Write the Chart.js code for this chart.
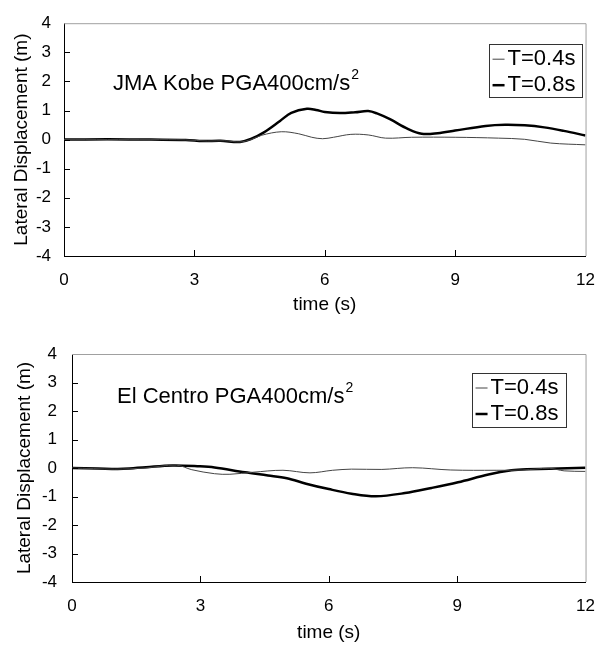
<!DOCTYPE html>
<html><head><meta charset="utf-8">
<script src="https://cdn.jsdelivr.net/npm/chart.js@4"></script>
<style>
html,body{margin:0;padding:0;background:#fff;width:609px;height:648px;overflow:hidden}
canvas{position:absolute;left:0}
</style></head><body>
<canvas id="c1" width="609" height="322" style="top:0"></canvas>
<canvas id="c2" width="609" height="326" style="top:322px"></canvas>
<script>
// ---- data ----
const xTickValues = [0, 3, 6, 9, 12];
const yTickValues = [-4, -3, -2, -1, 0, 1, 2, 3, 4];
const seriesLabels = ['T=0.4s', 'T=0.8s'];
const chartTitles = ['JMA Kobe PGA400cm/s', 'El Centro PGA400cm/s'];

const kobeT04Time = [0, 1, 2, 2.8, 3.3, 3.7, 4.05, 4.3, 4.55, 5.0, 5.4, 5.7, 5.95, 6.2, 6.6, 7.0, 7.4, 8.0, 9.0, 10.0, 10.6, 11.2, 12];
const kobeT04Disp = [0, 0, 0, -0.01, -0.05, -0.04, -0.08, 0.0, 0.15, 0.27, 0.2, 0.08, 0.03, 0.08, 0.18, 0.16, 0.05, 0.08, 0.08, 0.05, 0.01, -0.12, -0.18];

const kobeT08Time = [0, 1, 2, 2.8, 3.2, 3.6, 4.05, 4.3, 4.6, 4.97, 5.23, 5.59, 5.8, 6.0, 6.35, 6.7, 7.0, 7.2, 7.5, 7.91, 8.23, 8.6, 9.0, 9.7, 10.15, 10.6, 11.05, 11.5, 12];
const kobeT08Disp = [0, 0.01, 0, -0.01, -0.05, -0.04, -0.08, 0.02, 0.25, 0.64, 0.92, 1.06, 1.02, 0.95, 0.91, 0.94, 0.98, 0.9, 0.7, 0.37, 0.2, 0.22, 0.31, 0.47, 0.51, 0.49, 0.42, 0.3, 0.14];

const centroT04Time = [0, 0.5, 1.0, 1.7, 2.44, 2.8, 3.33, 3.69, 4.22, 4.93, 5.56, 6.09, 6.53, 7.24, 7.96, 8.85, 9.91, 10.53, 11.15, 11.5, 12];
const centroT04Disp = [0, -0.02, -0.04, 0.0, 0.1, -0.06, -0.2, -0.22, -0.15, -0.08, -0.17, -0.08, -0.04, -0.05, 0.01, -0.07, -0.08, -0.07, -0.01, -0.1, -0.12];

const centroT08Time = [0, 0.6, 1.2, 1.73, 2.35, 2.98, 3.33, 4.04, 4.58, 5.02, 5.47, 6.0, 6.53, 7.1, 7.78, 8.4, 9.02, 9.73, 10.27, 10.62, 11.15, 12];
const centroT08Disp = [0, -0.02, -0.03, 0.03, 0.09, 0.06, 0.02, -0.15, -0.26, -0.36, -0.55, -0.74, -0.9, -0.99, -0.88, -0.7, -0.5, -0.23, -0.08, -0.04, -0.03, 0.01];

// ---- helpers ----
const FONT = "'Liberation Sans', Arial, sans-serif";
const pts = (t, v) => t.map((x, i) => ({x, y: v[i]}));

const decorPlugin = {
  id: 'decor',
  afterDraw(chart, args, o) {
    const {ctx, chartArea: a, scales: {x, y}} = chart;
    ctx.save();
    // gray top/right frame
    ctx.strokeStyle = '#a0a0a0'; ctx.lineWidth = 1;
    ctx.beginPath();
    ctx.moveTo(a.left, a.top + 0.5); ctx.lineTo(a.right + 0.5, a.top + 0.5); ctx.lineTo(a.right + 0.5, a.bottom);
    ctx.stroke();
    // inner tick marks
    ctx.strokeStyle = '#000';
    ctx.beginPath();
    xTickValues.forEach(v => {
      if (v === x.min || v === x.max) return;
      const px = Math.round(x.getPixelForValue(v)) + 0.5;
      ctx.moveTo(px, a.bottom); ctx.lineTo(px, a.bottom - 6);
    });
    yTickValues.forEach(v => {
      if (v === y.min || v === y.max) return;
      const py = Math.round(y.getPixelForValue(v)) + 0.5;
      ctx.moveTo(a.left, py); ctx.lineTo(a.left + 6, py);
    });
    ctx.stroke();
    // title annotation with superscript
    ctx.fillStyle = '#000';
    ctx.textBaseline = 'middle'; ctx.textAlign = 'left';
    ctx.font = '22px ' + FONT;
    const tx = a.left + o.titleDx, ty = a.top + o.titleDy;
    ctx.fillText(o.title, tx, ty);
    const w = ctx.measureText(o.title).width;
    ctx.font = '14px ' + FONT;
    ctx.fillText('2', tx + w + 1, ty - 9);
    // legend box
    const bx = a.right - o.legDx, by = a.top + o.legDy, bw = o.legW, bh = o.legH;
    ctx.strokeStyle = '#333'; ctx.lineWidth = 1;
    ctx.strokeRect(Math.round(bx) + 0.5, Math.round(by) + 0.5, bw, bh);
    ctx.font = '22px ' + FONT;
    chart.data.datasets.forEach((ds, i) => {
      const ry = by + 15 + i * 26;
      ctx.strokeStyle = ds.borderColor; ctx.lineWidth = ds.borderWidth;
      ctx.beginPath(); ctx.moveTo(bx + 4, ry); ctx.lineTo(bx + 16, ry); ctx.stroke();
      ctx.fillStyle = '#000';
      ctx.fillText(ds.label, bx + 19, ry);
    });
    ctx.restore();
  }
};

function makeChart(id, t04, v04, t08, v08, L) {
  return new Chart(document.getElementById(id), {
    type: 'line',
    data: {
      datasets: [
        {label: seriesLabels[0], data: pts(t04, v04), borderColor: '#444', borderWidth: 1, pointRadius: 0, tension: 0.35, fill: false},
        {label: seriesLabels[1], data: pts(t08, v08), borderColor: '#000', borderWidth: 2.5, pointRadius: 0, tension: 0.35, fill: false}
      ]
    },
    options: {
      responsive: false, animation: false,
      layout: {padding: {left: 0, right: L.right, top: L.top, bottom: 0}},
      plugins: {legend: {display: false}, tooltip: {enabled: false},
        decor: {title: L.title, titleDx: L.titleDx, titleDy: L.titleDy, legDx: L.legDx, legDy: L.legDy, legW: L.legW, legH: L.legH}},
      scales: {
        x: {
          type: 'linear', min: 0, max: 12,
          afterFit: s => { s.height = L.xh; },
          afterBuildTicks: s => { s.ticks = xTickValues.map(v => ({value: v})); },
          ticks: {font: {size: 17, family: FONT}, color: '#000', padding: 14, maxRotation: 0},
          grid: {display: false, drawTicks: false},
          border: {display: true, color: '#000', width: 1},
          title: {display: true, text: 'time (s)', color: '#000', font: {size: 19, family: FONT}, padding: {top: 0, bottom: L.xtp}}
        },
        y: {
          type: 'linear', min: -4, max: 4,
          afterFit: s => { s.width = L.yw; },
          afterBuildTicks: s => { s.ticks = yTickValues.map(v => ({value: v})); },
          ticks: {font: {size: 17, family: FONT}, color: '#000', padding: L.ytick},
          grid: {display: false, drawTicks: false},
          border: {display: true, color: '#000', width: 1},
          title: {display: true, text: 'Lateral Displacement (m)', color: '#000', font: {size: 19, family: FONT}, padding: {top: L.ytp, bottom: 0}}
        }
      }
    },
    plugins: [decorPlugin]
  });
}

makeChart('c1', kobeT04Time, kobeT04Disp, kobeT08Time, kobeT08Disp,
  {title: chartTitles[0], right: 23, top: 16, xh: 66, yw: 64, xtp: 5.6, ytp: 10, ytick: 13,
   titleDx: 49, titleDy: 61, legDx: 97, legDy: 21, legW: 93, legH: 53});
makeChart('c2', centroT04Time, centroT04Disp, centroT08Time, centroT08Disp,
  {title: chartTitles[1], right: 12, top: 32, xh: 66, yw: 72, xtp: 3.6, ytp: 13.6, ytick: 15,
   titleDx: 45, titleDy: 43, legDx: 114, legDy: 19, legW: 94, legH: 54});
</script>
</body></html>
